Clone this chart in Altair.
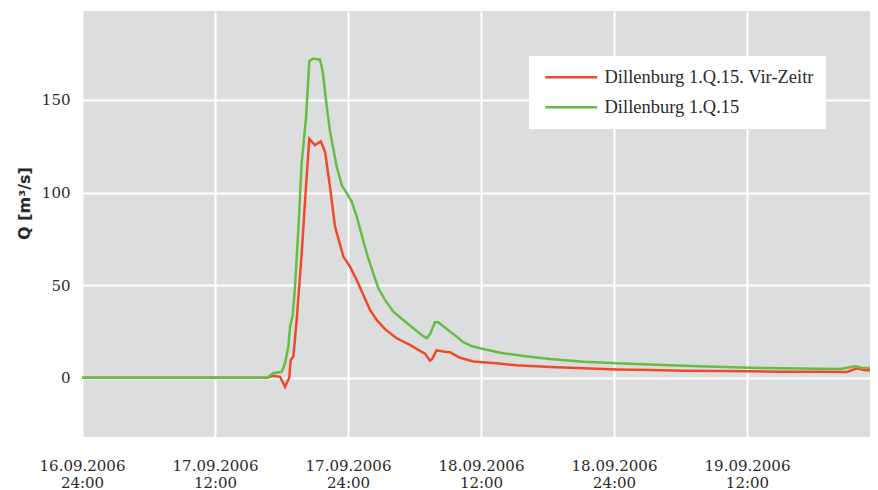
import json
import altair as alt
import pandas as pd

series_names = ["Dillenburg 1.Q.15. Vir-Zeitr", "Dillenburg 1.Q.15"]
series_colors = ["#EE4A2A", "#68BC45"]

# hours after 16.09.2006 24:00
red_hours = [0, 16.67, 17.23, 17.87, 18.32, 18.70, 18.83, 19.07, 19.37, 19.82, 20.21, 20.51,
             21.02, 21.54, 21.93, 22.38, 22.83, 23.58, 24.18, 24.79, 25.38, 25.99, 26.59,
             27.34, 28.39, 29.59, 30.50, 30.95, 31.40, 31.58, 31.99, 32.75, 33.20, 34.11,
             35.31, 37.42, 39.22, 42.24, 45.24, 48.26, 51.26, 54.27, 57.28, 60.29, 63.29,
             66.31, 69.01, 69.92, 70.67, 71.84]
red_q = [0, 0, 1.1, 0.5, -4.9, 0, 9.6, 11.4, 31, 67, 103, 129,
         125.6, 127.6, 122, 103, 81.6, 65.4, 60, 52.8, 44.7, 36.6, 31.2,
         26.2, 21.3, 17.7, 14.5, 13, 9.2, 10, 14.8, 14, 13.8, 10.8,
         8.8, 7.8, 6.7, 5.8, 5.1, 4.5, 4.2, 3.8, 3.6, 3.5, 3.2,
         3.2, 3.1, 5.1, 4, 4]

green_hours = [0, 16.67, 17.26, 18.02, 18.32, 18.62, 18.77, 19.01, 19.22, 19.52, 19.82, 20.21,
               20.51, 20.87, 21.47, 21.72, 22.08, 22.38, 22.98, 23.43, 23.88, 24.33, 24.79,
               25.24, 25.69, 26.28, 26.74, 27.34, 28.09, 28.99, 29.89, 30.65, 31.10, 31.40,
               31.85, 32.15, 32.91, 33.81, 34.40, 35.16, 35.91, 37.72, 39.83, 42.24, 45.24,
               48.26, 51.26, 54.27, 57.28, 60.29, 63.29, 66.31, 68.41, 69.77, 70.52, 71.84]
green_q = [0, 0, 2.4, 3.2, 7.8, 16.8, 27.6, 33.9, 49.2, 80, 116, 140,
           171, 172.3, 171.7, 165.4, 146.5, 133, 114, 104, 99.7, 95.1, 87,
           77, 67.2, 56.4, 48.3, 42, 35.7, 31.2, 26.7, 23.1, 21.3, 23.5,
           30, 29.9, 26.3, 22.2, 19.2, 17.1, 15.9, 13.5, 11.7, 10.1, 8.6,
           7.8, 7.2, 6.5, 5.9, 5.4, 5.1, 4.9, 4.7, 6.2, 5.2, 5.2]

x_tick_values = [0, 12, 24, 36, 48, 60]
x_tick_dates = ["16.09.2006", "17.09.2006", "17.09.2006", "18.09.2006", "18.09.2006", "19.09.2006"]
x_tick_times = ["24:00", "12:00", "24:00", "12:00", "24:00", "12:00"]
y_tick_values = [0, 50, 100, 150]

df_red = pd.DataFrame({"h": red_hours, "q": red_q, "series": series_names[0]})
df_green = pd.DataFrame({"h": green_hours, "q": green_q, "series": series_names[1]})

label_lookup = json.dumps([[d, t] for d, t in zip(x_tick_dates, x_tick_times)])
label_expr = f"{label_lookup}[round(datum.value / 12)]"

tick_font = "DejaVu Serif"
text_color = "#2a2a2a"

x_enc = alt.X(
    "h:Q",
    scale=alt.Scale(domain=[0, 71.1], nice=False, zero=False),
    axis=alt.Axis(
        values=x_tick_values, labelExpr=label_expr, title=None, domain=False, ticks=False,
        grid=True, gridColor="white", gridWidth=2, labelFont=tick_font, labelFontSize=15,
        labelColor=text_color, labelPadding=21, labelLineHeight=17, labelFlush=False,
        labelOverlap=False,
    ),
)
y_enc = alt.Y(
    "q:Q",
    scale=alt.Scale(domain=[-32, 198], nice=False, zero=False),
    axis=alt.Axis(
        values=y_tick_values, title="Q [m³/s]", domain=False, ticks=False, grid=True,
        gridColor="white", gridWidth=2, labelFont=tick_font, labelFontSize=15,
        labelColor=text_color, labelPadding=12, titleFont="DejaVu Sans", titleFontSize=16,
        titleFontWeight="bold", titleColor=text_color, titleAngle=270, titleX=-58, titleY=192,
        titleAlign="center", titleBaseline="middle",
    ),
)
color_enc = alt.Color(
    "series:N",
    scale=alt.Scale(domain=series_names, range=series_colors),
    legend=alt.Legend(
        orient="none", legendX=447, legendY=45, title=None, fillColor="white", padding=12,
        symbolType="M-5,0H5", symbolSize=108, symbolStrokeWidth=2.5, symbolOffset=21,
        labelFont="Liberation Serif", labelFontSize=18.5, labelLimit=400, labelColor=text_color,
        labelOffset=24, rowPadding=11,
    ),
)

red = alt.Chart(df_red).mark_line(strokeWidth=2.5, clip=True).encode(x=x_enc, y=y_enc, color=color_enc)
green = alt.Chart(df_green).mark_line(strokeWidth=2.5, clip=True).encode(x=x_enc, y=y_enc, color=color_enc)

chart = alt.layer(red, green).properties(
    width=788, height=426,
    autosize=alt.AutoSizeParams(type="none"),
    padding={"left": 74, "top": 3, "right": 0, "bottom": 55},
).configure_view(fill="#DCDDDF", strokeWidth=0)

chart.save("out.html", embed_options={"renderer": "svg", "actions": False})
